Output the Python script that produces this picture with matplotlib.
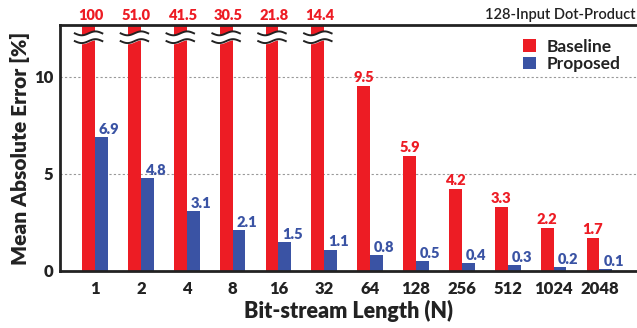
import numpy as np
import matplotlib.pyplot as plt

plt.rcParams['font.family'] = ['Lato', 'DejaVu Sans']

lengths = ['1', '2', '4', '8', '16', '32', '64', '128', '256', '512', '1024', '2048']
baseline = [100, 51.0, 41.5, 30.5, 21.8, 14.4, 9.5, 5.9, 4.2, 3.3, 2.2, 1.7]
proposed = [6.9, 4.8, 3.1, 2.1, 1.5, 1.1, 0.8, 0.5, 0.4, 0.3, 0.2, 0.1]
baseline_txt = ['100', '51.0', '41.5', '30.5', '21.8', '14.4', '9.5', '5.9', '4.2', '3.3', '2.2', '1.7']

red = '#ED1C24'
blue = '#3A53A4'
ink = '#222222'
ymax = 12.66

fig = plt.figure(figsize=(6.37, 3.28), dpi=100)
ax = fig.add_axes([0.0942, 0.1738, 0.9058, 0.75])

x = np.arange(len(lengths))
w = 0.28
ax.bar(x - w / 2, baseline, w, color=red, label='Baseline', zorder=2)
ax.bar(x + w / 2, proposed, w, color=blue, label='Proposed', zorder=2)

ax.set_xlim(-0.763, 11.82)
ax.set_ylim(0, ymax)
ax.set_yticks([0, 5, 10])
ax.set_xticks(x)
ax.set_xticklabels(lengths)
ax.tick_params(length=0, labelsize=12, pad=5)
ax.tick_params(axis='x', pad=7)
for t in ax.get_xticklabels() + ax.get_yticklabels():
    t.set_fontweight('heavy')
    t.set_color(ink)
ax.yaxis.grid(True, linestyle=(0, (2, 2)), color='#999999', linewidth=0.8, zorder=0)

for s in ['left', 'bottom', 'top']:
    ax.spines[s].set_linewidth(2)
    ax.spines[s].set_color(ink)
ax.spines['right'].set_visible(False)

ax.set_ylabel('Mean Absolute Error [%]', fontsize=15, fontweight='heavy', color=ink, labelpad=3)
ax.set_xlabel('Bit-stream Length (N)', fontsize=15.5, fontweight='heavy', color=ink, labelpad=2)

# value labels
for i, (b, p) in enumerate(zip(baseline, proposed)):
    if b > ymax:
        ax.text(x[i] - w / 2 + 0.04, ymax + 0.15, baseline_txt[i], ha='center', va='bottom',
                color=red, fontsize=10.5, fontweight='heavy', clip_on=False)
        # axis break mark across the clipped bar
        t = np.linspace(-0.3, 0.3, 60)
        cx = x[i] - w / 2
        yb = 12.03
        wave = 0.1 * np.sin(t / 0.3 * np.pi)
        ax.fill_between(cx + t, yb - 0.2 + wave, yb + 0.2 + wave, color='white', zorder=3)
        ax.plot(cx + t, yb - 0.2 + wave, color=ink, lw=1.4, zorder=4)
        ax.plot(cx + t, yb + 0.2 + wave, color=ink, lw=1.4, zorder=4)
    else:
        ax.text(x[i] - w / 2, b + 0.12, baseline_txt[i], ha='center', va='bottom',
                color=red, fontsize=10.5, fontweight='heavy')
    ax.text(x[i] + w / 2 + 0.17, p + 0.06, f'{p:.1f}', ha='center', va='bottom',
            color=blue, fontsize=10.5, fontweight='heavy')

ax.text(0.997, 1.012, '128-Input Dot-Product', transform=ax.transAxes, ha='right', va='bottom',
        fontsize=10.5, fontweight='semibold', color=ink)

leg = ax.legend(loc='upper left', bbox_to_anchor=(0.788, 0.98), frameon=False, borderpad=0,
                prop={'size': 12.5, 'weight': 'bold'}, handlelength=0.75, handleheight=0.7,
                handletextpad=0.6, labelspacing=0.08)
for txt in leg.get_texts():
    txt.set_color(ink)

fig.savefig('out.png', dpi=100)
